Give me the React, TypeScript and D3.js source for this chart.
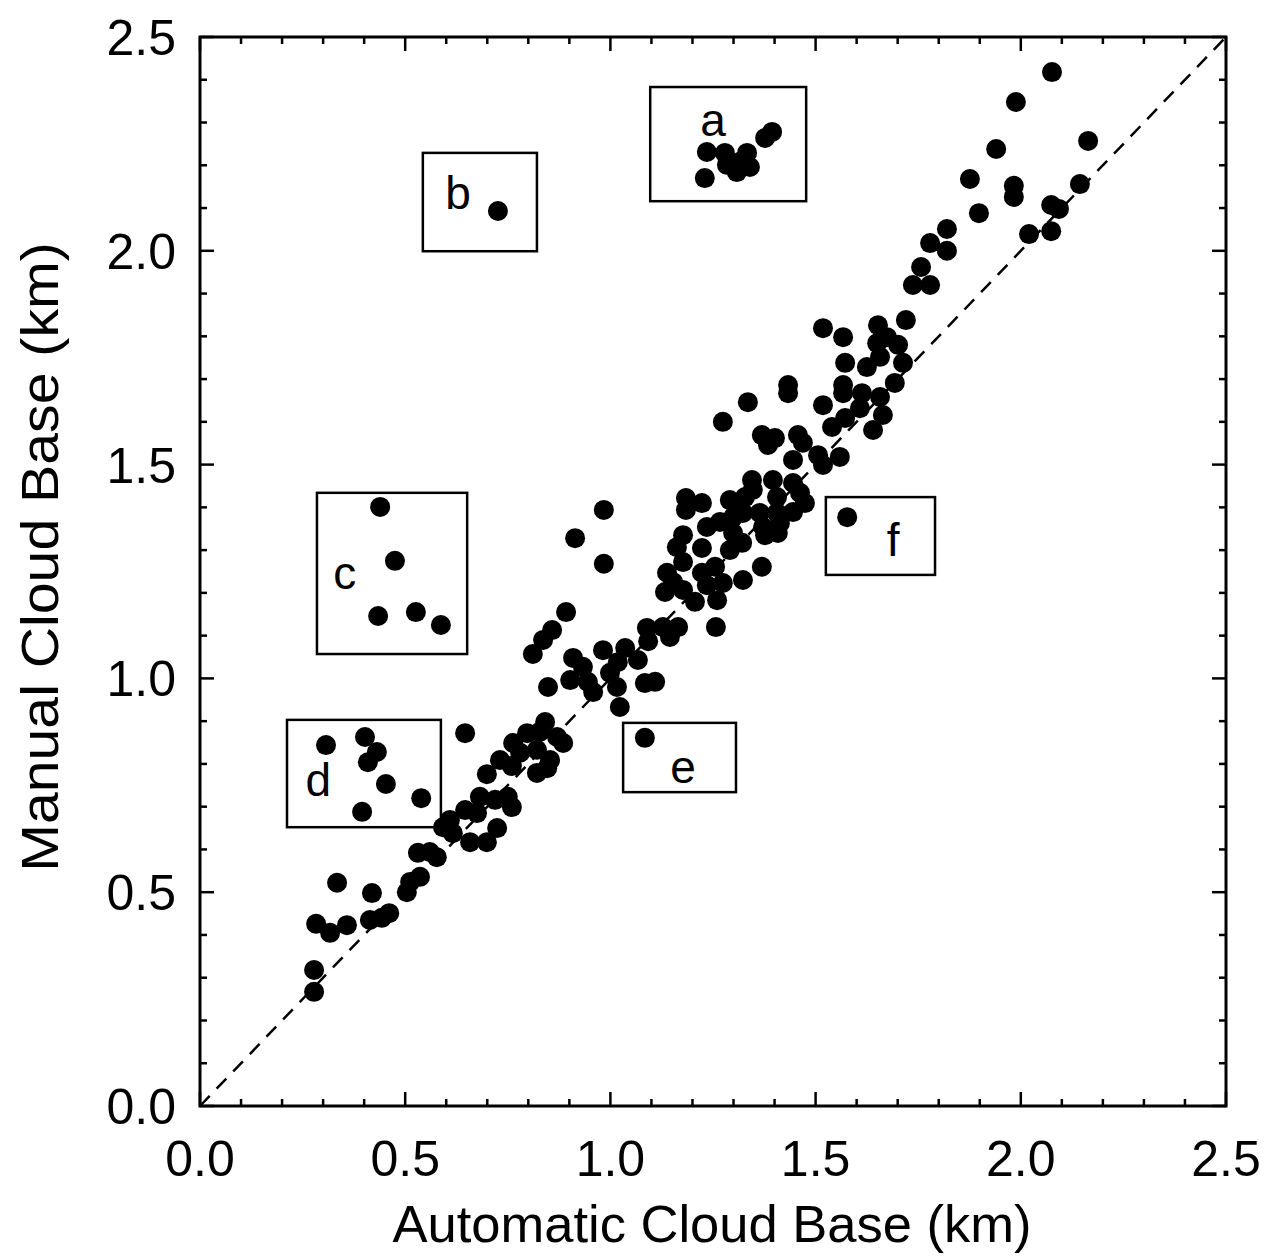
import React from "react";
import * as d3 from "d3";

// Automatic (ceilometer) vs manual cloud base heights, km
const autoKm: number[] = [
  0.278, 0.278, 0.283, 0.317, 0.358, 0.334, 0.419, 0.414, 0.443, 0.461,
  0.504, 0.512, 0.536, 0.531, 0.56, 0.577, 0.592, 0.616, 0.609, 0.646,
  0.675, 0.682, 0.658, 0.699, 0.724, 0.719, 0.75, 0.76, 0.699, 0.731,
  0.76, 0.821, 0.846, 0.763, 0.797, 0.828, 0.87, 0.885, 0.78, 0.821,
  0.853, 0.841, 0.646, 0.811, 0.836, 0.858, 0.892, 0.848, 0.909, 0.933,
  0.902, 0.945, 0.958, 0.999, 1.016, 0.982, 1.036, 1.018, 1.067, 1.084,
  1.109, 1.023, 0.914, 0.984, 0.984, 1.084, 1.089, 1.128, 1.165, 1.145,
  1.257, 1.138, 1.223, 1.255, 1.274, 1.323, 1.369, 1.153, 1.133, 1.177,
  1.206, 1.235, 1.26, 1.092, 1.184, 1.223, 1.184, 1.235, 1.267, 1.299,
  1.299, 1.291, 1.321, 1.177, 1.162, 1.223, 1.177, 1.345, 1.396, 1.445,
  1.462, 1.347, 1.406, 1.328, 1.291, 1.474, 1.364, 1.406, 1.445, 1.323,
  1.372, 1.408, 1.377, 1.413, 1.369, 1.401, 1.384, 1.457, 1.469, 1.506,
  1.559, 1.518, 1.445, 1.335, 1.274, 1.433, 1.433, 1.518, 1.567, 1.652,
  1.72, 1.65, 1.701, 1.674, 1.572, 1.625, 1.657, 1.713, 1.693, 1.567,
  1.567, 1.613, 1.657, 1.518, 1.608, 1.572, 1.664, 1.54, 1.64, 1.577,
  2.076, 1.988, 2.164, 1.94, 1.876, 1.983, 1.983, 2.144, 1.898, 2.074,
  2.093, 2.02, 2.074, 1.82, 1.779, 1.82, 1.757, 1.737, 1.779,
  // group c
  0.439, 0.475, 0.434, 0.526, 0.587,
  // group d
  0.307, 0.402, 0.431, 0.409, 0.453, 0.395, 0.539,
  // group a
  1.235, 1.23, 1.279, 1.284, 1.316, 1.333, 1.34, 1.308, 1.377, 1.394,
  // group b
  0.726,
];

const manualKm: number[] = [
  0.267, 0.318, 0.426, 0.405, 0.423, 0.522, 0.498, 0.435, 0.44, 0.451,
  0.5, 0.524, 0.536, 0.592, 0.594, 0.582, 0.652, 0.638, 0.669, 0.692,
  0.685, 0.723, 0.617, 0.617, 0.65, 0.716, 0.723, 0.699, 0.776, 0.809,
  0.795, 0.779, 0.79, 0.849, 0.872, 0.875, 0.863, 0.849, 0.826, 0.833,
  0.809, 0.898, 0.872, 1.057, 1.09, 1.113, 1.155, 0.98, 1.048, 1.027,
  0.996, 0.992, 0.968, 1.013, 0.98, 1.066, 1.071, 1.038, 1.043, 0.989,
  0.992, 0.933, 1.328, 1.394, 1.268, 0.861, 1.118, 1.12, 1.12, 1.097,
  1.12, 1.247, 1.247, 1.261, 1.223, 1.23, 1.261, 1.225, 1.202, 1.207,
  1.179, 1.218, 1.183, 1.087, 1.422, 1.41, 1.394, 1.354, 1.366, 1.377,
  1.34, 1.3, 1.317, 1.335, 1.307, 1.305, 1.272, 1.464, 1.464, 1.457,
  1.434, 1.441, 1.424, 1.424, 1.417, 1.41, 1.387, 1.387, 1.389, 1.387,
  1.354, 1.34, 1.335, 1.363, 1.569, 1.562, 1.546, 1.569, 1.551, 1.522,
  1.518, 1.499, 1.511, 1.646, 1.6, 1.686, 1.667, 1.819, 1.798, 1.826,
  1.838, 1.784, 1.78, 1.798, 1.738, 1.728, 1.752, 1.738, 1.691, 1.686,
  1.667, 1.667, 1.658, 1.639, 1.632, 1.609, 1.616, 1.588, 1.581, 1.377,
  2.418, 2.348, 2.257, 2.238, 2.168, 2.152, 2.126, 2.156, 2.088, 2.107,
  2.098, 2.039, 2.046, 2.051, 2.018, 2.0, 1.962, 1.92, 1.92,
  // group c
  1.401, 1.275, 1.146, 1.155, 1.125,
  // group d
  0.844, 0.863, 0.828, 0.804, 0.753, 0.688, 0.72,
  // group a
  2.231, 2.17, 2.229, 2.201, 2.208, 2.229, 2.196, 2.184, 2.264, 2.278,
  // group b
  2.093,
];

// Outlier groups: name, box extent (km) and label anchor (km)
const groupNames: string[] = ["a", "b", "c", "d", "e", "f"];
const groupBoxX0: number[] = [1.097, 0.543, 0.285, 0.212, 1.031, 1.525];
const groupBoxX1: number[] = [1.477, 0.821, 0.651, 0.587, 1.306, 1.791];
const groupBoxY0: number[] = [2.116, 1.999, 1.057, 0.652, 0.734, 1.242];
const groupBoxY1: number[] = [2.383, 2.229, 1.434, 0.903, 0.896, 1.424];
const groupLabelX: number[] = [1.25, 0.629, 0.353, 0.288, 1.177, 1.689];
const groupLabelY: number[] = [2.306, 2.135, 1.246, 0.762, 0.793, 1.324];

const axisTicks: number[] = [0, 0.5, 1.0, 1.5, 2.0, 2.5];
const minorTicks: number[] = d3.range(0, 26).map((i) => i / 10);

const W = 1273;
const H = 1260;
const left = 200;
const right = 1226;
const top = 37;
const bottom = 1106;

export default function App() {
  const x = d3.scaleLinear().domain([0, 2.5]).range([left, right]);
  const y = d3.scaleLinear().domain([0, 2.5]).range([bottom, top]);
  const font = "'Liberation Sans', Arial, Helvetica, sans-serif";
  const fmt = d3.format(".1f");

  const pts = autoKm.map((a, i) => [a, manualKm[i]] as [number, number]);

  const majorLen = 14;
  const minorLen = 7;

  return (
    <svg
      width={W}
      height={H}
      style={{ position: "absolute", left: 0, top: 0, background: "#fff" }}
      fontFamily={font}
    >
      <rect x={0} y={0} width={W} height={H} fill="#fff" />

      {/* one-to-one reference line */}
      <line
        x1={x(0)}
        y1={y(0)}
        x2={x(2.5)}
        y2={y(2.5)}
        stroke="#000"
        strokeWidth={2.5}
        strokeDasharray="14 10"
      />

      {/* group boxes */}
      {groupNames.map((g, i) => (
        <g key={g}>
          <rect
            x={x(groupBoxX0[i])}
            y={y(groupBoxY1[i])}
            width={x(groupBoxX1[i]) - x(groupBoxX0[i])}
            height={y(groupBoxY0[i]) - y(groupBoxY1[i])}
            fill="none"
            stroke="#000"
            strokeWidth={2.5}
          />
          <text
            x={x(groupLabelX[i])}
            y={y(groupLabelY[i])}
            textAnchor="middle"
            dominantBaseline="central"
            fontSize={46}
          >
            {g}
          </text>
        </g>
      ))}

      {/* observations */}
      {pts.map((p, i) => (
        <circle key={i} cx={x(p[0])} cy={y(p[1])} r={10} fill="#000" />
      ))}

      {/* frame */}
      <rect
        x={left}
        y={top}
        width={right - left}
        height={bottom - top}
        fill="none"
        stroke="#000"
        strokeWidth={3}
      />

      {/* ticks on all four sides, pointing inward */}
      {minorTicks.map((t) => {
        const isMajor = Math.abs(t * 2 - Math.round(t * 2)) < 1e-6;
        const len = isMajor ? majorLen : minorLen;
        return (
          <g key={t} stroke="#000" strokeWidth={2.5}>
            <line x1={x(t)} x2={x(t)} y1={bottom} y2={bottom - len} />
            <line x1={x(t)} x2={x(t)} y1={top} y2={top + len} />
            <line x1={left} x2={left + len} y1={y(t)} y2={y(t)} />
            <line x1={right} x2={right - len} y1={y(t)} y2={y(t)} />
          </g>
        );
      })}

      {/* tick labels */}
      {axisTicks.map((t) => (
        <text
          key={"x" + t}
          x={x(t)}
          y={1176}
          textAnchor="middle"
          fontSize={50}
        >
          {fmt(t)}
        </text>
      ))}
      {axisTicks.map((t) => (
        <text
          key={"y" + t}
          x={176}
          y={y(t) + 18}
          textAnchor="end"
          fontSize={50}
        >
          {fmt(t)}
        </text>
      ))}

      {/* axis titles */}
      <text x={712} y={1242} textAnchor="middle" fontSize={52.5}>
        Automatic Cloud Base (km)
      </text>
      <text
        transform={`translate(58, 557) rotate(-90) scale(1.1, 1)`}
        textAnchor="middle"
        fontSize={52}
      >
        Manual Cloud Base (km)
      </text>
    </svg>
  );
}
